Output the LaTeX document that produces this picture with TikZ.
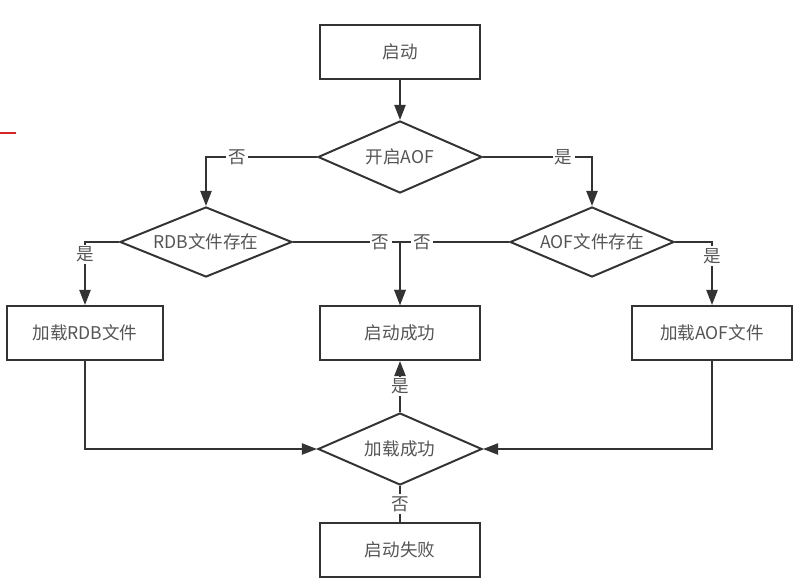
\documentclass[tikz,border=0pt]{standalone}
\usepackage{fontspec}
\newfontfamily\cjk{Noto Sans CJK SC}
\definecolor{fcline}{RGB}{51,51,51}
\definecolor{fctext}{RGB}{85,85,85}
\definecolor{fcred}{RGB}{214,39,40}
\usetikzlibrary{arrows.meta,shapes.geometric}

\begin{document}
\begin{tikzpicture}[x=0.025cm, y=-0.025cm,
  box/.style={draw=fcline, line width=1.4pt, minimum width=4cm, minimum height=1.35cm, font=\cjk\fontsize{12.5}{14}\selectfont, text=fctext},
  cond/.style={draw=fcline, line width=1.4pt, diamond, shape aspect=2.3, inner sep=0pt, minimum width=4.1cm, minimum height=1.8cm, font=\cjk\fontsize{12.5}{14}\selectfont, text=fctext},
  link/.style={draw=fcline, line width=1.4pt},
  arr/.style={link, -{Triangle[length=0.38cm,width=0.28cm]}},
  lbl/.style={fill=white, inner sep=1.5pt, font=\cjk\fontsize{12.5}{14}\selectfont, text=fctext}]
  \useasboundingbox (0,0) rectangle (806,585);

  % red mark on the left edge
  \draw[fcred, line width=1.5pt] (0,133) -- (16,133);

  \node[box] (start) at (400,52) {启动};
  \node[cond] (aofon) at (400,157) {开启AOF};
  \node[cond, minimum width=4.3cm, minimum height=1.75cm] (rdbex) at (206,242) {RDB文件存在};
  \node[cond, minimum height=1.75cm] (aofex) at (592,242) {AOF文件存在};
  \node[box, minimum width=3.9cm] (rdbld) at (85,333) {加载RDB文件};
  \node[box] (ok) at (400,333) {启动成功};
  \node[box] (aofld) at (712,333) {加载AOF文件};
  \node[cond] (ldok) at (400,449) {加载成功};
  \node[box] (fail) at (400,550) {启动失败};

  \draw[arr] (start) -- (aofon);
  \draw[arr] (aofon.west) -| node[lbl, pos=0.36] {否} (rdbex.north);
  \draw[arr] (aofon.east) -| node[lbl, pos=0.37] {是} (aofex.north);
  \draw[arr] (rdbex.west) -| node[lbl, pos=0.6] {是} (rdbld.north);
  \draw[arr] (rdbex.east) -| node[lbl, pos=0.41] {否} (ok.north);
  \draw[arr] (aofex.west) -| node[lbl, pos=0.4] {否} (ok.north);
  \draw[arr] (aofex.east) -| node[lbl, pos=0.61] {是} (aofld.north);
  \draw[arr] (rdbld.south) |- (ldok.west);
  \draw[arr] (aofld.south) |- (ldok.east);
  \draw[arr] (ldok.north) -- node[lbl] {是} (ok.south);
  \draw[link] (ldok.south) -- node[lbl] {否} (fail.north);
\end{tikzpicture}
\end{document}
